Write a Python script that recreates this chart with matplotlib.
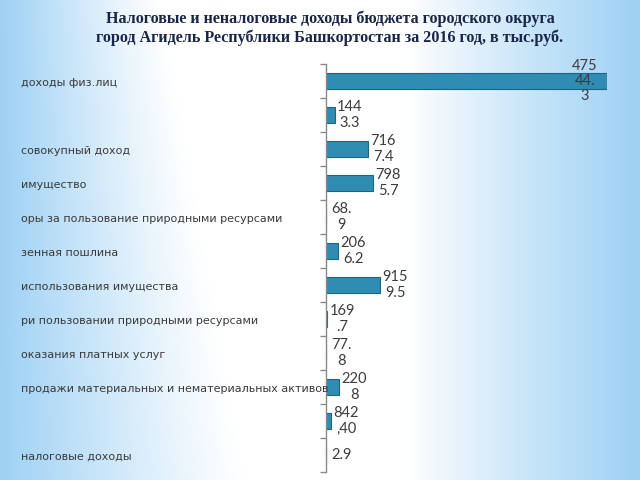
import matplotlib
matplotlib.use("Agg")
import matplotlib.pyplot as plt
import matplotlib.transforms as mtransforms
import numpy as np

# data (top to bottom)
categories = [
    "доходы физ.лиц",
    "",
    "совокупный доход",
    "имущество",
    "оры за пользование природными ресурсами",
    "зенная пошлина",
    "использования имущества",
    "ри пользовании природными ресурсами",
    "оказания платных услуг",
    "продажи материальных и нематериальных активов",
    "",
    "налоговые доходы",
]
values = [47544.3, 1443.3, 7167.4, 7985.7, 68.9, 2066.2, 9159.5, 169.7, 77.8, 2208.0, 842.40, 2.9]
valueLabels = [
    "475\n44.\n3", "144\n3.3", "716\n7.4", "798\n5.7", "68.\n9", "206\n6.2",
    "915\n9.5", "169\n.7", "77.\n8", "220\n8", "842\n,40", "2.9",
]
title = ("Налоговые и неналоговые доходы бюджета городского округа\n"
         "город Агидель Республики Башкортостан за 2016 год, в тыс.руб.")

W, H = 640, 480
fig = plt.figure(figsize=(6.4, 4.8), dpi=100)

# background gradient: blue at the sides, white in the middle
bg = fig.add_axes([0, 0, 1, 1])
bg.set_axis_off()
xs = np.linspace(0, 1, 320)
ys = np.linspace(0, 1, 240)
X, Y = np.meshgrid(xs, ys)
left = np.clip(1 - X / (0.25 + 0.13 * Y), 0, 1) ** 1.1
right = np.clip((X - 0.64) / 0.36, 0, 1) ** 0.9
w = np.clip(left + right, 0, 1)
blue = np.array([0.62, 0.82, 0.96])
white = np.array([1.0, 1.0, 1.0])
img = white[None, None, :] * (1 - w[..., None]) + blue[None, None, :] * w[..., None]
bg.imshow(img, extent=[0, 1, 0, 1], aspect="auto", origin="upper")
bg.set_xlim(0, 1)
bg.set_ylim(0, 1)

axL, axR, axT, axB = 326, 607, 64, 472
ax = fig.add_axes([axL / W, 1 - axB / H, (axR - axL) / W, (axB - axT) / H])
ax.patch.set_alpha(0)

pos = np.arange(len(values))
ax.barh(pos, values, height=0.48, color="#2f8cb2", edgecolor="#1d6584", linewidth=0.8)
ax.set_xlim(0, max(values))
ax.set_ylim(len(values) - 0.5, -0.5)

for s in ["top", "right", "bottom"]:
    ax.spines[s].set_visible(False)
ax.spines["left"].set_color("#8a8a8a")
ax.spines["left"].set_linewidth(1.0)
ax.set_xticks([])
ax.set_yticks(np.arange(-0.5, len(values), 1.0))
ax.set_yticklabels([])
ax.tick_params(axis="y", length=4, color="#8a8a8a", width=1.0, direction="out")

figY = mtransforms.blended_transform_factory(fig.transFigure, ax.transData)

# category labels on the left, clipped at the figure edge
for i, lab in enumerate(categories):
    if not lab:
        continue
    ax.text(21 / W, i + 0.05, lab, transform=figY,
            ha="left", va="center", fontsize=8, color="#3a3a3a", family="DejaVu Sans")

# value labels
pxPerUnit = (axR - axL) / max(values)
for i, (v, lab) in enumerate(zip(values, valueLabels)):
    endPx = axL + v * pxPerUnit
    xc = endPx - 22 if i == 0 else endPx + 15
    ax.text(xc / W, i, lab, transform=figY,
            ha="center", va="center", fontsize=10.5, color="#3c3c3c", family="Lato",
            linespacing=1.1)

fig.text(330 / W, 1 - 28 / H, title, ha="center", va="center", fontsize=11.6,
         fontweight="bold", color="#1a2647", family="Liberation Serif", linespacing=1.2)

fig.savefig("out.png", dpi=100)
